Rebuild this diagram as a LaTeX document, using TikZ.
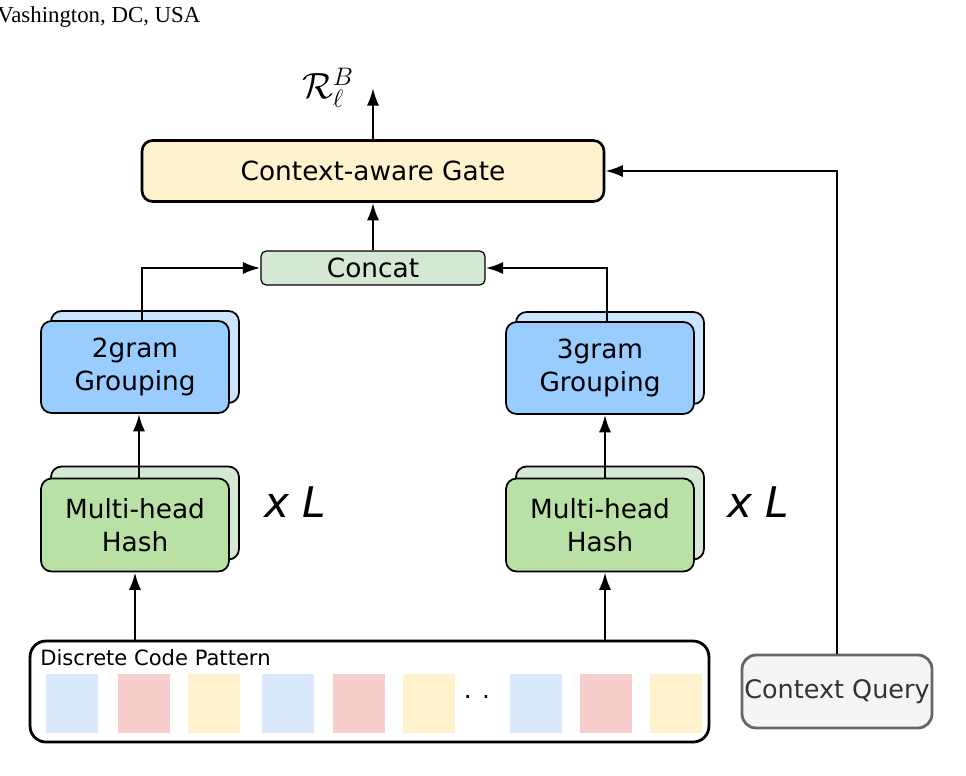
\documentclass[tikz,border=0pt]{standalone}
\usepackage{fontspec}
\setmainfont{DejaVu Sans}
\newfontfamily\capfont{Liberation Serif}
\usetikzlibrary{positioning}
\usetikzlibrary{calc}
\usetikzlibrary{arrows.meta}
\definecolor{gateyel}{RGB}{255, 242, 204}
\definecolor{catgreen}{RGB}{213, 232, 212}
\definecolor{hashgreen}{RGB}{185, 224, 165}
\definecolor{grpblue}{RGB}{153, 204, 255}
\definecolor{grpback}{RGB}{204, 229, 255}
\definecolor{codeblue}{RGB}{218, 232, 252}
\definecolor{codered}{RGB}{248, 206, 204}
\definecolor{codeyel}{RGB}{255, 242, 204}
\definecolor{querygray}{RGB}{245, 245, 245}
\tikzstyle{blockbox} = [
	draw=black,
	rounded corners=6pt,
	line width=1pt,
	align=center,
	font=\fontsize{15}{19}\selectfont
]
\tikzstyle{grpface} = [
	blockbox,
	fill=grpblue,
	minimum width=3.76cm,
	minimum height=1.84cm
]
\tikzstyle{hashface} = [
	blockbox,
	fill=hashgreen,
	minimum width=3.76cm,
	minimum height=1.86cm
]
\tikzstyle{codecell} = [
	minimum width=1.04cm,
	minimum height=1.18cm,
	inner sep=0pt
]
\tikzstyle{link} = [
	-{Latex[length=10pt,width=7pt]},
	line width=1.5pt
]

\begin{document}
\begin{tikzpicture}[x=0.02cm, y=-0.02cm]
	\useasboundingbox (0,0) rectangle (966,775);
	
	% header remnant
	\node[anchor=north west, inner sep=0pt, font=\capfont\fontsize{13}{15}\selectfont] (header) at (-3,6) {Vashington, DC, USA};
	
	% top part
	\node[blockbox, fill=gateyel, line width=1.5pt, minimum width=9.24cm, minimum height=1.22cm] (gate) at (373,171) {Context-aware Gate};
	\coordinate (out) at (373,88);
	\node[font=\fontsize{21}{24}\selectfont] (rlab) at (328,88) {$\mathcal{R}_\ell^B$};
	\node[draw=black, fill=catgreen, rounded corners=3pt, line width=0.7pt, minimum width=4.48cm, minimum height=0.68cm, font=\fontsize{15}{19}\selectfont] (concat) at (373,268) {Concat};
	
	% grouping faces
	\node[grpface, fill=grpback] (G2b) at (145,357) {};
	\node[grpface] (G2) at (135,367) {2gram\\Grouping};
	\node[grpface, fill=grpback] (G3b) at (610,358) {};
	\node[grpface] (G3) at (600,368) {3gram\\Grouping};
	
	% hash faces
	\node[hashface, fill=catgreen] (H2b) at (145,513) {};
	\node[hashface] (H2) at (135,525) {Multi-head\\Hash};
	\node[hashface, fill=catgreen] (H3b) at (610,513) {};
	\node[hashface] (H3) at (600,525) {Multi-head\\Hash};
	\node[font=\fontsize{24}{28}\selectfont\itshape] (L2) at (295,502) {x L};
	\node[font=\fontsize{24}{28}\selectfont\itshape] (L3) at (758,502) {x L};
	
	% discrete code pattern
	\node[blockbox, minimum width=13.58cm, minimum height=2.02cm, rounded corners=9pt, line width=1.6pt] (code) at (369.5,691.5) {};
	\node[anchor=north west, inner sep=0pt, font=\fontsize{12}{14}\selectfont] (codelab) at (40,649) {Discrete Code Pattern};
	\foreach \cx/\cc [count=\i] in {72/codeblue, 144/codered, 214/codeyel, 288/codeblue, 359/codered, 429/codeyel, 536/codeblue, 606/codered, 676/codeyel}
		\node[codecell, fill=\cc] (c\i) at (\cx,703.5) {};
	\node[font=\fontsize{14}{16}\selectfont] (dots) at (477,697) {. .};
	
	\node[draw=black!60, fill=querygray, rounded corners=8pt, line width=1.6pt, inner sep=1pt, minimum width=3.8cm, minimum height=1.46cm, font=\fontsize{14.5}{18}\selectfont\color{black!80}] (query) at (837,691.5) {Context Query};
	
	% connectors
	\draw[link] (gate.north) -- (out);
	\draw[link] (concat.north) -- (gate.south);
	\draw[link] (G2.north -| 142,0) |- (concat.west);
	\draw[link] (G3.north -| 607,0) |- (concat.east);
	\draw[link] (H2.north -| 139,0) -- (G2.south -| 139,0);
	\draw[link] (H3.north -| 605,0) -- (G3.south -| 605,0);
	\draw[link] (code.north -| 135,0) -- (H2.south -| 135,0);
	\draw[link] (code.north -| 605,0) -- (H3.south -| 605,0);
	\draw[link] (query.north) |- (gate.east);
\end{tikzpicture}
\end{document}
